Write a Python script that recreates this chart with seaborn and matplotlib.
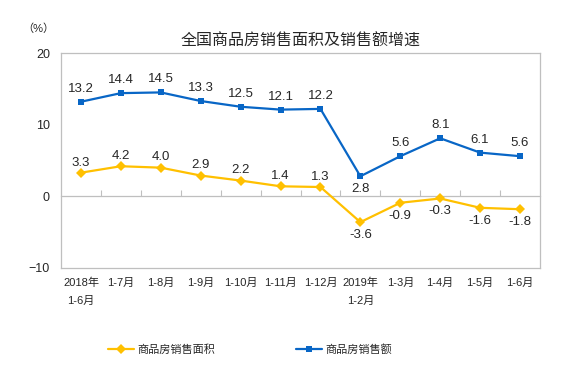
import pandas as pd
import matplotlib
matplotlib.use("Agg")
import matplotlib.pyplot as plt
import seaborn as sns

# Data
periods = ["2018年\n1-6月", "1-7月", "1-8月", "1-9月", "1-10月", "1-11月", "1-12月",
           "2019年\n1-2月", "1-3月", "1-4月", "1-5月", "1-6月"]
area_growth = [3.3, 4.2, 4.0, 2.9, 2.2, 1.4, 1.3, -3.6, -0.9, -0.3, -1.6, -1.8]
sales_growth = [13.2, 14.4, 14.5, 13.3, 12.5, 12.1, 12.2, 2.8, 5.6, 8.1, 6.1, 5.6]
series_names = ["商品房销售面积", "商品房销售额"]
yticks = [-10, 0, 10, 20]

sns.set_style("white")
plt.rcParams["font.family"] = ["Liberation Sans", "Noto Sans CJK SC", "DejaVu Sans"]

YELLOW = "#FFC000"
BLUE = "#0866C6"
GRAY = "#BFBFBF"

df = pd.DataFrame({
    "period": periods * 2,
    "value": area_growth + sales_growth,
    "series": [series_names[0]] * len(periods) + [series_names[1]] * len(periods),
})

fig = plt.figure(figsize=(5.69, 3.76), dpi=100)
ax = fig.add_axes([61 / 569, 1 - 268 / 376, 479 / 569, 215 / 376])

sns.lineplot(data=df, x="period", y="value", hue="series", style="series",
             palette={series_names[0]: YELLOW, series_names[1]: BLUE},
             markers={series_names[0]: "D", series_names[1]: "s"},
             dashes=False, sort=False, linewidth=1.6, markersize=5,
             markeredgewidth=0, ax=ax, legend=True)

ax.set_xlim(-0.5, len(periods) - 0.5)
ax.set_ylim(-10, 20)
ax.set_yticks(yticks)
ax.set_xticks(range(len(periods)))
ax.set_xticklabels(periods, linespacing=2.0)
ax.set_xlabel("")
ax.set_ylabel("")
for sp in ax.spines.values():
    sp.set_color(GRAY)
    sp.set_linewidth(0.9)
ax.tick_params(axis="y", direction="in", length=4, color=GRAY, labelsize=9, pad=8)
ax.tick_params(axis="x", length=0, labelsize=8, pad=7)

# zero line with the category separator ticks
zero = ax.secondary_xaxis(1 / 3)
zero.set_xticks([i + 0.5 for i in range(len(periods) - 1)])
zero.tick_params(axis="x", direction="in", length=4, color=GRAY, labelbottom=False)
zero.spines["bottom"].set_color(GRAY)
zero.spines["bottom"].set_linewidth(0.9)

# value labels
for i, v in enumerate(sales_growth):
    below = i == 7
    ax.annotate(f"{v:.1f}", (i, v), xytext=(0, -5 if below else 5),
                textcoords="offset points", ha="center",
                va="top" if below else "bottom", fontsize=9.5)
for i, v in enumerate(area_growth):
    below = v < 0
    ax.annotate(f"{v:.1f}", (i, v), xytext=(0, -5 if below else 3),
                textcoords="offset points", ha="center",
                va="top" if below else "bottom", fontsize=9.5)

ax.set_title("全国商品房销售面积及销售额增速", fontsize=11.5, pad=5)
fig.text(38 / 569, 1 - 29 / 376, "（%）", fontsize=8, ha="center", va="center")

handles, labels = ax.get_legend_handles_labels()
ax.get_legend().remove()
fig.legend(handles, labels, loc="center", bbox_to_anchor=(250 / 569, 1 - 350 / 376),
           ncol=2, frameon=False, fontsize=8, handlelength=2.3, columnspacing=7.3,
           handletextpad=0.3)

fig.savefig("out.png", dpi=100)
